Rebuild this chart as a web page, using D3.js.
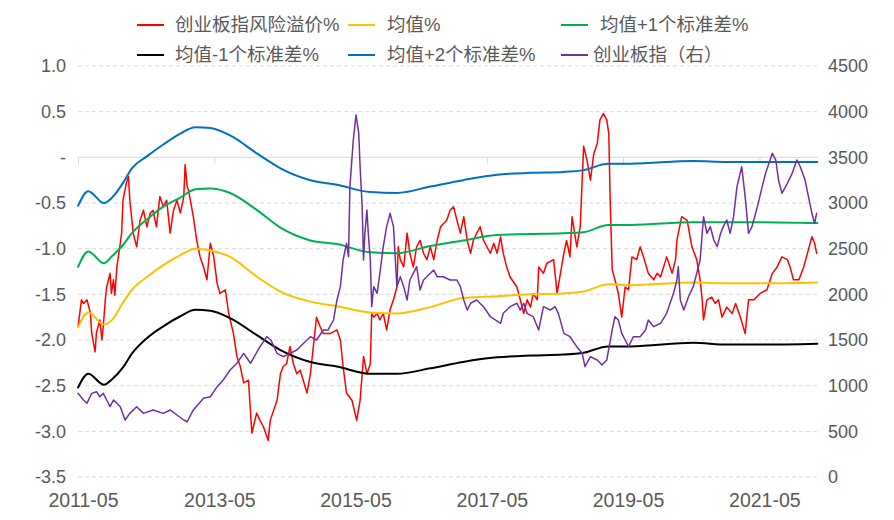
<!DOCTYPE html>
<html><head><meta charset="utf-8">
<script src="https://cdn.jsdelivr.net/npm/d3@7"></script>
<style>
body{margin:0;background:#fff;}
text{font-family:"Liberation Sans",Arial,"Noto Sans CJK SC",sans-serif;}
</style>
</head><body>
<svg id="chart" width="894" height="520"></svg>
<script>
// ---------------- DATA ----------------
const leftTicks = [1.0, 0.5, 0, -0.5, -1.0, -1.5, -2.0, -2.5, -3.0, -3.5];
const leftTickLabels = ["1.0", "0.5", "-", "-0.5", "-1.0", "-1.5", "-2.0", "-2.5", "-3.0", "-3.5"];
const rightTicks = [0, 500, 1000, 1500, 2000, 2500, 3000, 3500, 4000, 4500];
const xTickLabels = ["2011-05", "2013-05", "2015-05", "2017-05", "2019-05", "2021-05"];

const seriesNames = ["创业板指风险溢价%", "均值%", "均值+1个标准差%", "均值-1个标准差%", "均值+2个标准差%", "创业板指（右）"];

// dates as decimal years
const bandYears = [2011.33, 2011.48, 2011.71, 2011.83, 2011.99, 2012.12, 2012.34, 2012.58, 2012.83, 2013.05,
  2013.27, 2013.56, 2013.96, 2014.30, 2014.74, 2015.13, 2015.62, 2016.01, 2016.50, 2016.98,
  2017.48, 2017.97, 2018.45, 2018.75, 2019.11, 2019.44, 2020.36, 2020.86, 2021.34, 2022.18];
const meanValues = [-1.86, -1.70, -1.83, -1.78, -1.59, -1.45, -1.31, -1.18, -1.07, -1.00,
  -1.02, -1.09, -1.31, -1.47, -1.58, -1.63, -1.70, -1.71, -1.64, -1.54,
  -1.52, -1.50, -1.49, -1.47, -1.39, -1.40, -1.37, -1.38, -1.38, -1.37];
const plus1Values = [-1.20, -1.03, -1.16, -1.08, -0.96, -0.83, -0.68, -0.54, -0.44, -0.35,
  -0.34, -0.39, -0.58, -0.77, -0.91, -0.95, -1.04, -1.05, -0.97, -0.91,
  -0.85, -0.84, -0.83, -0.82, -0.74, -0.74, -0.71, -0.71, -0.71, -0.72];
const minus1Values = [-2.52, -2.37, -2.49, -2.43, -2.30, -2.15, -1.98, -1.85, -1.74, -1.67,
  -1.68, -1.76, -1.95, -2.11, -2.24, -2.29, -2.37, -2.37, -2.31, -2.24,
  -2.19, -2.17, -2.16, -2.14, -2.07, -2.07, -2.03, -2.05, -2.05, -2.04];
const plus2Values = [-0.53, -0.37, -0.50, -0.44, -0.28, -0.12, 0.01, 0.14, 0.26, 0.33,
  0.32, 0.24, 0.04, -0.12, -0.25, -0.30, -0.38, -0.39, -0.32, -0.25,
  -0.19, -0.17, -0.16, -0.14, -0.07, -0.07, -0.04, -0.05, -0.05, -0.05];

const riskYears = [2011.33, 2011.38, 2011.41, 2011.46, 2011.51, 2011.53, 2011.58, 2011.60, 2011.65, 2011.68,
  2011.70, 2011.73, 2011.75, 2011.80, 2011.82, 2011.85, 2011.87, 2011.90, 2011.95, 2011.97,
  2011.99, 2012.04, 2012.07, 2012.09, 2012.14, 2012.19, 2012.24, 2012.29, 2012.34, 2012.39,
  2012.43, 2012.48, 2012.53, 2012.58, 2012.63, 2012.68, 2012.73, 2012.78, 2012.83, 2012.88,
  2012.90, 2012.93, 2012.95, 2013.02, 2013.07, 2013.12, 2013.17, 2013.22, 2013.27, 2013.32,
  2013.37, 2013.41, 2013.49, 2013.54, 2013.61, 2013.66, 2013.71, 2013.76, 2013.83, 2013.88,
  2013.95, 2014.00, 2014.05, 2014.12, 2014.15, 2014.25, 2014.30, 2014.34, 2014.39, 2014.44,
  2014.49, 2014.54, 2014.59, 2014.69, 2014.74, 2014.83, 2014.88, 2014.93, 2015.03, 2015.13,
  2015.18, 2015.22, 2015.27, 2015.35, 2015.42, 2015.47, 2015.52, 2015.57, 2015.62, 2015.64,
  2015.67, 2015.72, 2015.76, 2015.81, 2015.86, 2015.91, 2015.96, 2016.01, 2016.03, 2016.06,
  2016.11, 2016.16, 2016.20, 2016.25, 2016.30, 2016.35, 2016.40, 2016.45, 2016.50, 2016.55,
  2016.60, 2016.65, 2016.74, 2016.79, 2016.84, 2016.89, 2016.94, 2016.99, 2017.04, 2017.09,
  2017.13, 2017.18, 2017.23, 2017.28, 2017.38, 2017.43, 2017.48, 2017.53, 2017.57, 2017.62,
  2017.67, 2017.77, 2017.82, 2017.87, 2017.92, 2017.97, 2018.01, 2018.07, 2018.09, 2018.16,
  2018.21, 2018.31, 2018.36, 2018.41, 2018.46, 2018.50, 2018.55, 2018.58, 2018.65, 2018.70,
  2018.75, 2018.80, 2018.85, 2018.90, 2018.95, 2018.99, 2019.04, 2019.09, 2019.12, 2019.14,
  2019.17, 2019.21, 2019.26, 2019.31, 2019.36, 2019.41, 2019.46, 2019.53, 2019.58, 2019.63,
  2019.70, 2019.78, 2019.83, 2019.88, 2019.97, 2020.05, 2020.10, 2020.12, 2020.19, 2020.27,
  2020.34, 2020.41, 2020.46, 2020.49, 2020.51, 2020.56, 2020.63, 2020.68, 2020.73, 2020.78,
  2020.85, 2020.93, 2020.98, 2021.05, 2021.12, 2021.17, 2021.25, 2021.34, 2021.44, 2021.52,
  2021.59, 2021.66, 2021.74, 2021.78, 2021.83, 2021.91, 2021.98, 2022.05, 2022.10, 2022.14,
  2022.17];
const riskValues = [-1.85, -1.56, -1.60, -1.56, -1.70, -1.92, -2.13, -1.92, -1.78, -2.00,
  -1.85, -1.56, -1.42, -1.27, -1.49, -1.34, -1.51, -1.20, -0.94, -0.83,
  -0.47, -0.28, -0.21, -0.47, -0.83, -0.98, -0.69, -0.58, -0.76, -0.61,
  -0.58, -0.76, -0.43, -0.54, -0.47, -0.83, -0.58, -0.47, -0.61, -0.43,
  -0.08, -0.32, -0.36, -0.65, -0.91, -1.09, -1.20, -1.34, -0.94, -1.09,
  -1.38, -1.49, -1.45, -1.71, -1.93, -2.18, -2.29, -2.47, -2.44, -3.02,
  -2.80, -2.88, -2.95, -3.10, -2.88, -2.66, -2.37, -2.29, -2.26, -2.07,
  -2.26, -2.37, -2.33, -2.58, -2.37, -1.75, -1.85, -1.93, -1.93, -1.89,
  -2.00, -2.29, -2.58, -2.66, -2.88, -2.66, -2.18, -2.37, -2.26, -1.71,
  -1.75, -1.71, -1.78, -1.71, -1.89, -1.67, -1.56, -1.42, -0.98, -1.12,
  -1.20, -0.83, -1.05, -1.20, -0.98, -0.91, -1.05, -1.12, -0.98, -1.12,
  -0.91, -0.76, -0.69, -0.58, -0.54, -0.69, -0.83, -0.65, -0.91, -1.05,
  -0.91, -0.83, -0.76, -0.91, -1.05, -0.94, -1.05, -0.87, -1.05, -1.20,
  -1.31, -1.42, -1.56, -1.71, -1.56, -1.64, -1.49, -1.56, -1.20, -1.27,
  -1.16, -1.12, -1.49, -1.27, -1.05, -0.91, -1.09, -0.65, -0.98, -0.76,
  0.12, -0.03, -0.25, 0.04, 0.15, 0.41, 0.48, 0.41, 0.26, -0.47,
  -1.23, -1.34, -1.49, -1.75, -1.42, -1.45, -1.09, -1.12, -0.98, -1.09,
  -1.27, -1.34, -1.27, -1.31, -1.09, -1.27, -1.12, -0.91, -0.65, -0.69,
  -0.98, -1.12, -1.34, -1.56, -1.78, -1.56, -1.53, -1.60, -1.56, -1.75,
  -1.64, -1.71, -1.60, -1.75, -1.93, -1.56, -1.56, -1.49, -1.45, -1.27,
  -1.20, -1.09, -1.12, -1.20, -1.34, -1.34, -1.20, -1.01, -0.87, -0.94,
  -1.05];

const indexYears = [2011.33, 2011.41, 2011.46, 2011.53, 2011.60, 2011.65, 2011.70, 2011.75, 2011.80, 2011.85,
  2011.90, 2011.95, 2012.02, 2012.09, 2012.19, 2012.29, 2012.43, 2012.58, 2012.68, 2012.78,
  2012.88, 2012.93, 2013.02, 2013.17, 2013.27, 2013.37, 2013.46, 2013.56, 2013.66, 2013.76,
  2013.86, 2013.93, 2014.00, 2014.10, 2014.16, 2014.25, 2014.34, 2014.44, 2014.54, 2014.64,
  2014.74, 2014.83, 2014.93, 2015.00, 2015.08, 2015.13, 2015.18, 2015.22, 2015.27, 2015.30,
  2015.32, 2015.37, 2015.41, 2015.45, 2015.47, 2015.50, 2015.52, 2015.54, 2015.57, 2015.59,
  2015.62, 2015.64, 2015.67, 2015.72, 2015.76, 2015.81, 2015.86, 2015.91, 2015.96, 2016.01,
  2016.06, 2016.11, 2016.16, 2016.20, 2016.25, 2016.30, 2016.35, 2016.40, 2016.50, 2016.55,
  2016.60, 2016.69, 2016.79, 2016.89, 2016.94, 2016.99, 2017.04, 2017.09, 2017.18, 2017.28,
  2017.38, 2017.53, 2017.57, 2017.67, 2017.77, 2017.82, 2017.87, 2017.92, 2018.01, 2018.09,
  2018.16, 2018.26, 2018.33, 2018.38, 2018.46, 2018.55, 2018.65, 2018.73, 2018.77, 2018.85,
  2018.95, 2019.02, 2019.09, 2019.17, 2019.21, 2019.26, 2019.31, 2019.36, 2019.41, 2019.48,
  2019.58, 2019.66, 2019.70, 2019.78, 2019.88, 2019.97, 2020.07, 2020.12, 2020.14, 2020.17,
  2020.22, 2020.29, 2020.36, 2020.41, 2020.46, 2020.51, 2020.56, 2020.61, 2020.66, 2020.71,
  2020.76, 2020.80, 2020.85, 2020.90, 2020.95, 2021.00, 2021.07, 2021.12, 2021.17, 2021.22,
  2021.30, 2021.37, 2021.42, 2021.47, 2021.52, 2021.57, 2021.61, 2021.66, 2021.74, 2021.81,
  2021.88, 2021.93, 2022.00, 2022.05, 2022.10, 2022.14, 2022.17];
const indexValues = [916, 843, 807, 916, 934, 879, 916, 843, 770, 843,
  807, 770, 624, 697, 770, 697, 734, 697, 734, 679,
  624, 605, 734, 862, 879, 989, 1062, 1172, 1245, 1354,
  1245, 1336, 1427, 1536, 1500, 1354, 1317, 1354, 1391, 1464,
  1536, 1500, 1610, 1610, 1719, 1938, 2084, 2376, 2559, 2412,
  3179, 3690, 3964, 3763, 3397, 2960, 2376, 2668, 2923, 2668,
  2376, 1865, 2084, 2011, 2230, 2522, 2741, 2887, 2741, 2084,
  2193, 2084, 1938, 2157, 2230, 2303, 2047, 2157, 2230, 2266,
  2193, 2193, 2157, 2157, 2084, 1938, 1828, 1902, 1938, 1865,
  1755, 1683, 1792, 1865, 1902, 1828, 1902, 1792, 1755, 1610,
  1865, 1828, 1865, 1792, 1573, 1536, 1427, 1354, 1208, 1317,
  1281, 1226, 1281, 1610, 1755, 1719, 1573, 1500, 1427, 1536,
  1536, 1610, 1719, 1646, 1683, 1792, 2011, 2157, 2303, 1938,
  1828, 1974, 2084, 2230, 2376, 2850, 2668, 2741, 2595, 2522,
  2668, 2741, 2814, 2668, 2850, 3179, 3397, 3069, 2668, 2741,
  2960, 3179, 3325, 3435, 3544, 3471, 3252, 3106, 3216, 3325,
  3471, 3397, 3252, 3069, 2887, 2778, 2887];

// ---------------- CHART ----------------
const toDate = y => {
  const yr = Math.floor(y);
  const s = new Date(yr, 0, 1), e = new Date(yr + 1, 0, 1);
  return new Date(+s + (y - yr) * (e - s));
};
const parseMonth = d3.timeParse("%Y-%m");

const svg = d3.select("#chart");
const plotL = 78, plotR = 818, plotT = 66, plotB = 477;

const x = d3.scaleTime().domain([toDate(2011.329), toDate(2022.19)]).range([plotL, plotR]);
const yL = d3.scaleLinear().domain([-3.5, 1.0]).range([plotB, plotT]);
const yR = d3.scaleLinear().domain([0, 4500]).range([plotB, plotT]);

const labelColor = "#595959";
const gridColor = "#d9d9d9";
const numFont = '"Liberation Sans", Arial, sans-serif';

// grid lines
svg.append("g").selectAll("line").data(leftTicks.filter(d => d !== 0)).join("line")
  .attr("x1", plotL).attr("x2", plotR)
  .attr("y1", d => yL(d)).attr("y2", d => yL(d))
  .attr("stroke", gridColor).attr("stroke-width", 1).attr("stroke-dasharray", "4,3");

// zero axis line with date ticks
const xTickDates = xTickLabels.map(parseMonth);
const zeroAxis = d3.axisBottom(x).tickValues(xTickDates).tickSize(7).tickFormat("");
const gz = svg.append("g").attr("transform", `translate(0,${yL(0)})`).call(zeroAxis);
gz.select(".domain").attr("stroke", gridColor).attr("d", `M${plotL},0H${plotR}`);
gz.selectAll(".tick line").attr("stroke", gridColor);

// x labels at bottom
const xAxis = d3.axisBottom(x).tickValues(xTickDates).tickSize(0).tickPadding(0)
  .tickFormat((d, i) => xTickLabels[i]);
const gx = svg.append("g").attr("transform", `translate(5,${plotB + 30})`).call(xAxis);
gx.select(".domain").remove();
gx.selectAll("text").attr("fill", labelColor).attr("font-size", 19.5)
  .attr("font-family", numFont).attr("dy", 0);

// left axis
const leftAxis = d3.axisLeft(yL).tickValues(leftTicks).tickSize(0).tickPadding(0)
  .tickFormat((d, i) => leftTickLabels[i]);
const gl = svg.append("g").attr("transform", `translate(66,0)`).call(leftAxis);
gl.select(".domain").remove();
gl.selectAll("text").attr("fill", labelColor).attr("font-size", 18).attr("font-family", numFont);

// right axis
const rightAxis = d3.axisRight(yR).tickValues(rightTicks).tickSize(0).tickPadding(0)
  .tickFormat(d3.format("d"));
const gr = svg.append("g").attr("transform", `translate(828,0)`).call(rightAxis);
gr.select(".domain").remove();
gr.selectAll("text").attr("fill", labelColor).attr("font-size", 18).attr("font-family", numFont);

// lines
const colors = ["#ff0000", "#ffc000", "#00b050", "#000000", "#0070c0", "#7030a0"];
const bandLine = d3.line().curve(d3.curveMonotoneX).x(d => x(toDate(d[0]))).y(d => yL(d[1]));
const riskLine = d3.line().x(d => x(toDate(d[0]))).y(d => yL(d[1]));
const idxLine = d3.line().x(d => x(toDate(d[0]))).y(d => yR(d[1]));

const zip = (a, b) => a.map((v, i) => [v, b[i]]);
const g = svg.append("g").attr("fill", "none").attr("stroke-linejoin", "round").attr("stroke-linecap", "round");
g.append("path").attr("d", riskLine(zip(riskYears, riskValues))).attr("stroke", colors[0]).attr("stroke-width", 1.5);
g.append("path").attr("d", bandLine(zip(bandYears, meanValues))).attr("stroke", colors[1]).attr("stroke-width", 2);
g.append("path").attr("d", bandLine(zip(bandYears, plus1Values))).attr("stroke", colors[2]).attr("stroke-width", 2);
g.append("path").attr("d", bandLine(zip(bandYears, minus1Values))).attr("stroke", colors[3]).attr("stroke-width", 2);
g.append("path").attr("d", bandLine(zip(bandYears, plus2Values))).attr("stroke", colors[4]).attr("stroke-width", 2);
g.append("path").attr("d", idxLine(zip(indexYears, indexValues))).attr("stroke", colors[5]).attr("stroke-width", 1.5);

// legend
const legendPos = [
  {lx: 137, tx: 175, y: 25}, {lx: 348, tx: 387, y: 25}, {lx: 561, tx: 600, y: 25},
  {lx: 137, tx: 175, y: 55}, {lx: 348, tx: 387, y: 55}, {lx: 561, tx: 593, y: 55}
];
const lg = svg.append("g");
seriesNames.forEach((name, i) => {
  const p = legendPos[i];
  lg.append("line").attr("x1", p.lx).attr("x2", p.lx + 27).attr("y1", p.y).attr("y2", p.y)
    .attr("stroke", colors[i]).attr("stroke-width", 2);
  lg.append("text").attr("x", p.tx).attr("y", p.y).attr("dy", "0.35em")
    .attr("font-size", 18.5).attr("fill", labelColor).text(name);
});
</script>
</body></html>
